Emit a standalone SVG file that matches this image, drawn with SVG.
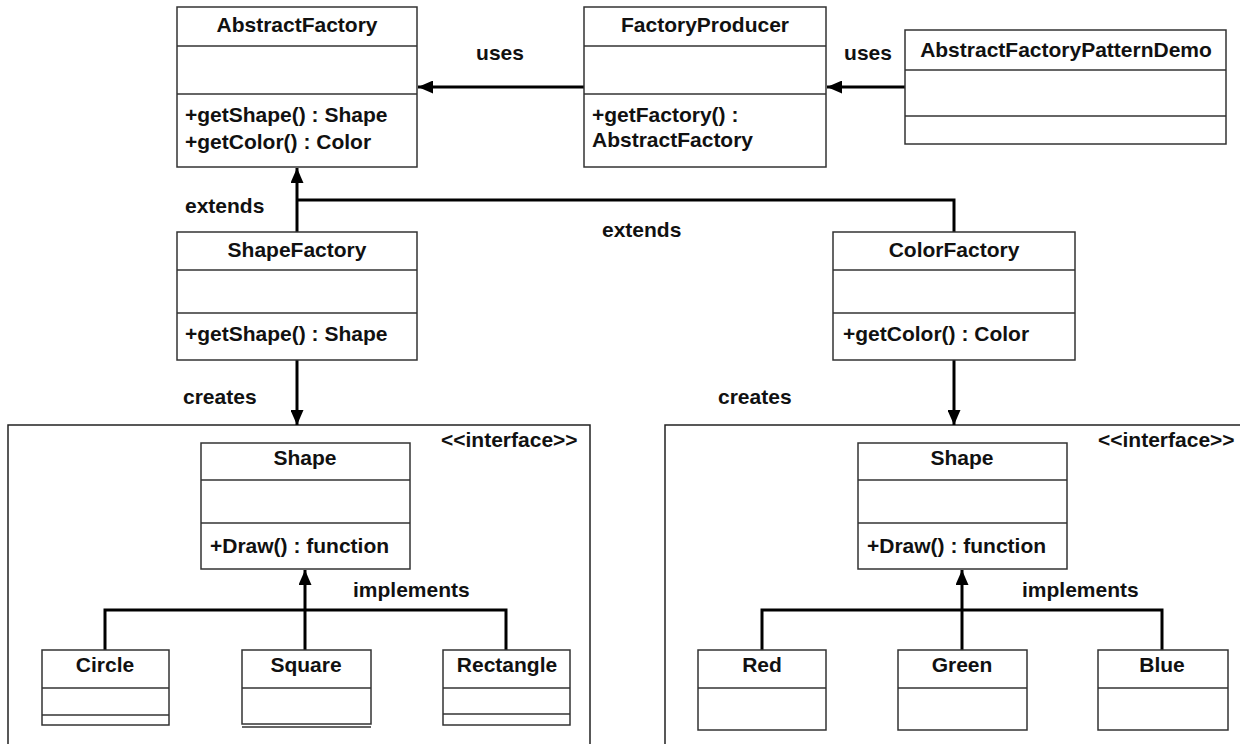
<svg xmlns="http://www.w3.org/2000/svg" width="1240" height="744" viewBox="0 0 1240 744">
<style>
.box{fill:#fff;stroke:#333;stroke-width:1.5}
.div{stroke:#333;stroke-width:1.5}
.t{font-family:"Liberation Sans",Arial,sans-serif;font-weight:bold;font-size:21px;fill:#111}
.c{text-anchor:middle}
.con{fill:none;stroke:#000;stroke-width:3}
.cont{fill:none;stroke:#222;stroke-width:1.5}
</style>
<defs>
<marker id="ah" markerUnits="userSpaceOnUse" markerWidth="15" markerHeight="13" refX="15" refY="6.5" orient="auto">
<path d="M0,0 L15,6.5 L0,13 z" fill="#000"/>
</marker>
</defs>
<rect width="1240" height="744" fill="#fff"/>

<g id="containers">
<polyline class="cont" points="8,750 8,425 590,425 590,750"/>
<polyline class="cont" points="665,750 665,425 1245,425"/>
<text class="t" x="441" y="447">&lt;&lt;interface&gt;&gt;</text>
<text class="t" x="1098" y="447">&lt;&lt;interface&gt;&gt;</text>
</g>

<g id="connectors">
<line class="con" x1="584" y1="87" x2="418" y2="87" marker-end="url(#ah)"/>
<line class="con" x1="905" y1="87" x2="827" y2="87" marker-end="url(#ah)"/>
<polyline class="con" points="954,232 954,200 297,200"/>
<line class="con" x1="297" y1="232" x2="297" y2="168" marker-end="url(#ah)"/>
<line class="con" x1="297" y1="360" x2="297" y2="425" marker-end="url(#ah)"/>
<line class="con" x1="954" y1="360" x2="954" y2="425" marker-end="url(#ah)"/>
<polyline class="con" points="105,650 105,610 506,610 506,650"/>
<line class="con" x1="305" y1="650" x2="305" y2="570" marker-end="url(#ah)"/>
<polyline class="con" points="762,650 762,610 1162,610 1162,650"/>
<line class="con" x1="962" y1="650" x2="962" y2="570" marker-end="url(#ah)"/>
<text class="t c" x="500" y="60">uses</text>
<text class="t c" x="868" y="60">uses</text>
<text class="t" x="185" y="213">extends</text>
<text class="t" x="602" y="237">extends</text>
<text class="t" x="183" y="404">creates</text>
<text class="t" x="718" y="404">creates</text>
<text class="t" x="353" y="597">implements</text>
<text class="t" x="1022" y="597">implements</text>
</g>

<g id="AbstractFactory">
<rect class="box" x="177" y="7" width="240" height="160"/>
<line class="div" x1="177" y1="46" x2="417" y2="46"/>
<line class="div" x1="177" y1="94" x2="417" y2="94"/>
<text class="t c" x="297" y="32">AbstractFactory</text>
<text class="t" x="185" y="122">+getShape() : Shape</text>
<text class="t" x="185" y="149">+getColor() : Color</text>
</g>

<g id="FactoryProducer">
<rect class="box" x="584" y="7" width="242" height="160"/>
<line class="div" x1="584" y1="46" x2="826" y2="46"/>
<line class="div" x1="584" y1="94" x2="826" y2="94"/>
<text class="t c" x="705" y="32">FactoryProducer</text>
<text class="t" x="592" y="122">+getFactory() :</text>
<text class="t" x="592" y="147">AbstractFactory</text>
</g>

<g id="AbstractFactoryPatternDemo">
<rect class="box" x="905" y="30" width="321" height="114"/>
<line class="div" x1="905" y1="70" x2="1226" y2="70"/>
<line class="div" x1="905" y1="116" x2="1226" y2="116"/>
<text class="t c" x="1066" y="57">AbstractFactoryPatternDemo</text>
</g>

<g id="ShapeFactory">
<rect class="box" x="177" y="232" width="240" height="128"/>
<line class="div" x1="177" y1="270" x2="417" y2="270"/>
<line class="div" x1="177" y1="313" x2="417" y2="313"/>
<text class="t c" x="297" y="257">ShapeFactory</text>
<text class="t" x="185" y="341">+getShape() : Shape</text>
</g>

<g id="ColorFactory">
<rect class="box" x="833" y="232" width="242" height="128"/>
<line class="div" x1="833" y1="270" x2="1075" y2="270"/>
<line class="div" x1="833" y1="313" x2="1075" y2="313"/>
<text class="t c" x="954" y="257">ColorFactory</text>
<text class="t" x="843" y="341">+getColor() : Color</text>
</g>

<g id="ShapeLeft">
<rect class="box" x="201" y="443" width="209" height="126"/>
<line class="div" x1="201" y1="480" x2="410" y2="480"/>
<line class="div" x1="201" y1="523" x2="410" y2="523"/>
<text class="t c" x="305" y="465">Shape</text>
<text class="t" x="210" y="553">+Draw() : function</text>
</g>

<g id="Circle">
<rect class="box" x="42" y="650" width="127" height="75"/>
<line class="div" x1="42" y1="688" x2="169" y2="688"/>
<line class="div" x1="42" y1="715" x2="169" y2="715"/>
<text class="t c" x="105" y="672">Circle</text>
</g>

<g id="Square">
<rect class="box" x="242" y="650" width="129" height="74"/>
<line class="div" x1="242" y1="688" x2="371" y2="688"/>
<line class="div" x1="242" y1="727" x2="371" y2="727" stroke-width="1"/>
<text class="t c" x="306" y="672">Square</text>
</g>

<g id="Rectangle">
<rect class="box" x="443" y="650" width="127" height="75"/>
<line class="div" x1="443" y1="688" x2="570" y2="688"/>
<line class="div" x1="443" y1="714" x2="570" y2="714"/>
<text class="t c" x="507" y="672">Rectangle</text>
</g>

<g id="ShapeRight">
<rect class="box" x="858" y="443" width="209" height="126"/>
<line class="div" x1="858" y1="480" x2="1067" y2="480"/>
<line class="div" x1="858" y1="523" x2="1067" y2="523"/>
<text class="t c" x="962" y="465">Shape</text>
<text class="t" x="867" y="553">+Draw() : function</text>
</g>

<g id="Red">
<rect class="box" x="698" y="650" width="128" height="80"/>
<line class="div" x1="698" y1="688" x2="826" y2="688"/>
<text class="t c" x="762" y="672">Red</text>
</g>

<g id="Green">
<rect class="box" x="898" y="650" width="129" height="80"/>
<line class="div" x1="898" y1="688" x2="1027" y2="688"/>
<text class="t c" x="962" y="672">Green</text>
</g>

<g id="Blue">
<rect class="box" x="1098" y="650" width="130" height="80"/>
<line class="div" x1="1098" y1="688" x2="1228" y2="688"/>
<text class="t c" x="1162" y="672">Blue</text>
</g>
</svg>
